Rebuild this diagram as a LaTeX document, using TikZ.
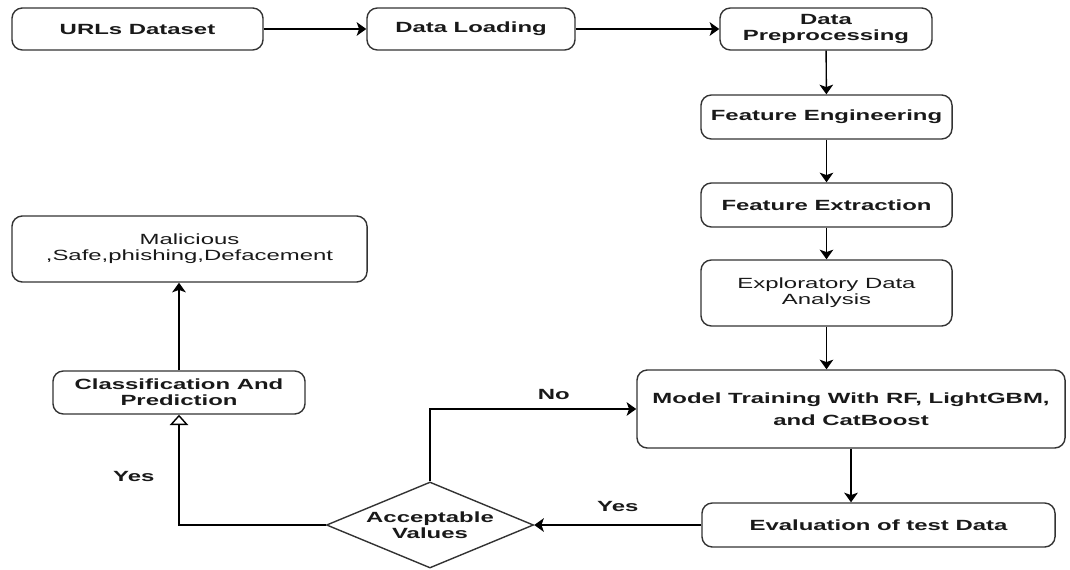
\documentclass[tikz,border=0pt]{standalone}
\usepackage{fontspec}
\setmainfont{Liberation Sans}[FakeStretch=1.62]
\usetikzlibrary{arrows.meta,shapes.geometric}

\tikzset{
  stepbox/.style={draw=black!80, line width=1pt, rounded corners=0.26cm, align=center,
    inner sep=0pt, text=black!90, font=\bfseries\fontsize{10.5}{11.6}\selectfont},
  plainbox/.style={stepbox, font=\fontsize{10.5}{11.6}\selectfont},
  decision/.style={draw=black!80, line width=1pt, diamond, aspect=2.4, inner sep=0pt,
    align=center, text=black!90, font=\bfseries\fontsize{10.5}{11.6}\selectfont},
  arr/.style={line width=1pt, -{Stealth[length=0.24cm, width=0.34cm, inset=0.06cm]}},
  openarr/.style={line width=1pt, -{Triangle[open, length=0.26cm, width=0.46cm, fill=white]}},
  lbl/.style={font=\bfseries\fontsize{10.5}{11}\selectfont, inner sep=0pt, text=black!90}
}

\begin{document}
\begin{tikzpicture}[x=0.025cm, y=-0.025cm]
  \useasboundingbox (0,0) rectangle (1070,570);
  % top row
  \node[stepbox, minimum width=6.275cm, minimum height=1.05cm] (urls) at (137.5,29) {URLs Dataset};
  \node[stepbox, minimum width=5.2cm, minimum height=1.05cm] (load) at (471,29) {Data Loading};
  \node[stepbox, minimum width=5.3cm, minimum height=1.05cm] (prep) at (826,29) {Data\\Preprocessing};
  % right column
  \node[stepbox, minimum width=6.275cm, minimum height=1.1cm] (feng) at (826.5,117) {Feature Engineering};
  \node[stepbox, minimum width=6.275cm, minimum height=1.1cm] (fext) at (826.5,205) {Feature Extraction};
  \node[plainbox, minimum width=6.275cm, minimum height=1.65cm] (eda) at (826.5,293) {Exploratory Data\\Analysis};
  \node[stepbox, minimum width=10.7cm, minimum height=1.95cm, font=\bfseries\fontsize{10.5}{16}\selectfont] (model) at (851,409) {Model Training With RF, LightGBM,\\and CatBoost};
  \node[stepbox, minimum width=8.825cm, minimum height=1.1cm] (eval) at (878.5,525) {Evaluation of test Data};
  % decision and output
  \node[decision, minimum width=5.175cm, minimum height=2.15cm] (accept) at (430,525) {Acceptable\\Values};
  \node[stepbox, minimum width=6.3cm, minimum height=1.075cm] (classify) at (179,392.5) {Classification And\\Prediction};
  \node[plainbox, minimum width=8.875cm, minimum height=1.65cm] (result) at (189.5,249) {Malicious\\,Safe,phishing,Defacement};

  \draw[arr] (urls) -- (load);
  \draw[arr] (load) -- (prep);
  \draw[arr] (prep) -- (feng);
  \draw[arr] (feng) -- (fext);
  \draw[arr] (fext) -- (eda);
  \draw[arr] (eda.south) -- (eda.south |- model.north);
  \draw[arr] (model.south) -- (model.south |- eval.north);
  \draw[arr] (eval) -- node[lbl, above=9pt] {Yes} (accept);
  \draw[arr] (accept.north) |- node[lbl, pos=0.8, above=6pt] {No} (model.west);
  \draw[openarr] (accept.west) -| node[lbl, pos=0.72, left=17pt] {Yes} (classify.south);
  \draw[arr] (classify.north) -- (classify.north |- result.south);
\end{tikzpicture}
\end{document}
